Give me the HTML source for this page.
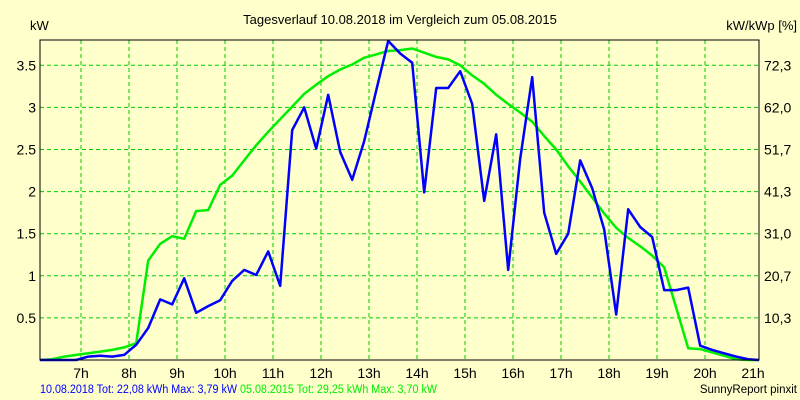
<!DOCTYPE html>
<html><head><meta charset="utf-8"><style>
body{margin:0;background:#ffffcc;}
svg{display:block;font-family:"Liberation Sans",sans-serif;}
</style></head><body>
<svg id="c" width="800" height="400">
<rect x="0" y="0" width="800" height="400" fill="#ffffcc"/>
<g id="grid"></g>
<g id="lines"></g>
<rect x="40" y="40" width="719" height="320" fill="none" stroke="#000" stroke-width="1"/>
<g id="labels" font-size="14" fill="#000"></g>
<text x="400" y="24" font-size="13" text-anchor="middle">Tagesverlauf 10.08.2018 im Vergleich zum 05.08.2015</text>
<text x="30" y="30" font-size="13">kW</text>
<text x="797" y="30" font-size="13" text-anchor="end">kW/kWp [%]</text>
<text x="40" y="393" font-size="11.5" fill="#0000ff" textLength="197" lengthAdjust="spacingAndGlyphs">10.08.2018 Tot: 22,08 kWh Max: 3,79 kW</text>
<text x="240" y="393" font-size="11.5" fill="#00ee00" textLength="197" lengthAdjust="spacingAndGlyphs">05.08.2015 Tot: 29,25 kWh Max: 3,70 kW</text>
<text x="797" y="393" font-size="11.5" text-anchor="end">SunnyReport pinxit</text>
</svg>
<script>
const hourTicks=[7,8,9,10,11,12,13,14,15,16,17,18,19,20,21];
const yTicks=[0.5,1,1.5,2,2.5,3,3.5];
const yTickLabels=["0.5","1","1.5","2","2.5","3","3.5"];
const y2TickLabels=["10,3","20,7","31,0","41,3","51,7","62,0","72,3"];
const seriesStart=6+9/60; const stepH=0.25;
const blue2018=[0,0,0,0,0.04,0.05,0.04,0.06,0.18,0.38,0.72,0.66,0.97,0.56,0.64,0.71,0.94,1.07,1.01,1.29,0.88,2.73,3.00,2.51,3.15,2.47,2.14,2.60,3.2,3.79,3.64,3.53,1.99,3.23,3.23,3.43,3.04,1.89,2.68,1.07,2.39,3.36,1.75,1.26,1.5,2.37,2.04,1.55,0.54,1.79,1.58,1.46,0.83,0.83,0.86,0.17,0.12,0.08,0.04,0.01,0];
const green2015=[0,0.01,0.04,0.06,0.08,0.10,0.12,0.15,0.2,1.18,1.38,1.47,1.44,1.77,1.78,2.08,2.19,2.37,2.55,2.71,2.86,3.01,3.16,3.27,3.37,3.45,3.51,3.59,3.63,3.67,3.68,3.70,3.65,3.60,3.57,3.50,3.38,3.28,3.15,3.04,2.94,2.83,2.66,2.50,2.30,2.12,1.93,1.74,1.57,1.45,1.35,1.24,1.1,0.62,0.14,0.13,0.09,0.05,0.01,0,0];
const NS="http://www.w3.org/2000/svg";
const xs=h=>81+(h-7)*48;
const ys=v=>360-v*84.2;
function mk(tag,attrs,parent){const e=document.createElementNS(NS,tag);for(const k in attrs)e.setAttribute(k,attrs[k]);parent.appendChild(e);return e;}
const grid=document.getElementById('grid'),labels=document.getElementById('labels'),lines=document.getElementById('lines');
hourTicks.forEach(h=>{
  if(h<21){const l=mk('line',{x1:xs(h),x2:xs(h),y1:40,y2:360,stroke:'#00cc00','stroke-dasharray':'4,3'},grid);
  
  }
  const t=mk('text',{x:xs(h),y:378,'text-anchor':'middle'},labels);t.textContent=h+'h';
  
  
});
yTicks.forEach((v,i)=>{
  const l=mk('line',{x1:40,x2:759,y1:ys(v),y2:ys(v),stroke:'#00cc00','stroke-dasharray':'4,3'},grid);
  
  
  const t=mk('text',{x:36,y:ys(v)+5,'text-anchor':'end'},labels);t.textContent=yTickLabels[i];
  
  
  const t2=mk('text',{x:764,y:ys(v)+5},labels);t2.textContent=y2TickLabels[i];
  
  
});
function path(arr,color,name){
  const d=arr.map((v,i)=>(i?'L':'M')+Math.min(759,xs(seriesStart+i*stepH)).toFixed(1)+','+ys(v).toFixed(1)).join(' ');
  const p=mk('path',{d:d,fill:'none',stroke:color,'stroke-width':2.5,'stroke-linejoin':'round'},lines);
  
  
}
path(green2015,'#00ee00','line-2015');
path(blue2018,'#0000ff','line-2018');
</script>
</body></html>
